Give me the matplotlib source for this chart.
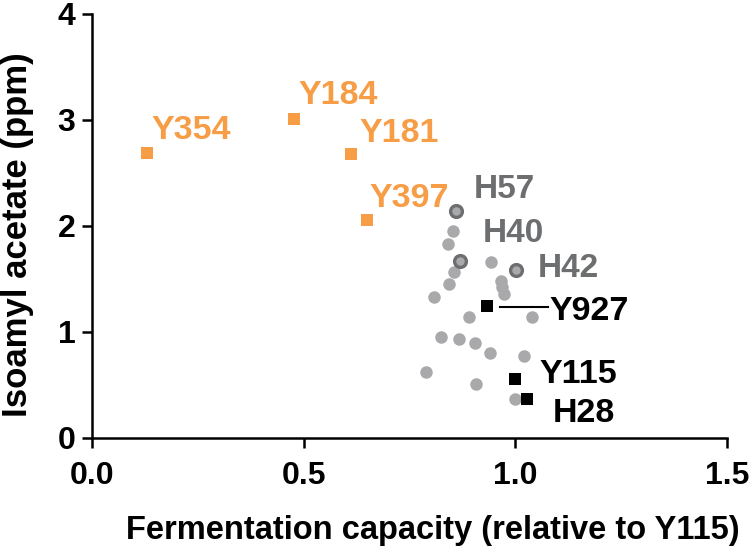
import matplotlib
matplotlib.use("Agg")
import matplotlib.pyplot as plt

plt.rcParams['font.family'] = ['Liberation Sans', 'DejaVu Sans']
plt.rcParams['font.weight'] = 'bold'

# orange squares (low fermentation, high isoamyl acetate)
orange_names = ['Y354', 'Y184', 'Y181', 'Y397']
orange_x = [0.131, 0.478, 0.611, 0.651]
orange_y = [2.69, 3.01, 2.68, 2.06]

# black squares (references)
black_names = ['Y927', 'Y115', 'H28']
black_x = [0.933, 1.000, 1.028]
black_y = [1.24, 0.55, 0.37]

# highlighted hybrids (ringed circles)
ring_names = ['H57', 'H40', 'H42']
ring_x = [0.859, 0.869, 1.003]
ring_y = [2.14, 1.67, 1.58]

# other hybrids
gray_x = [0.853, 0.841, 0.855, 0.844, 0.944, 0.967, 0.970, 0.973, 0.807,
          0.891, 1.039, 0.824, 0.867, 0.904, 0.940, 1.020, 0.789, 0.907, 0.999]
gray_y = [1.95, 1.83, 1.56, 1.45, 1.66, 1.48, 1.42, 1.36, 1.33,
          1.14, 1.14, 0.95, 0.93, 0.89, 0.80, 0.77, 0.62, 0.51, 0.37]

# label anchors (left edge, vertical centre)
orange_lab = [(0.141, 2.90), (0.489, 3.23), (0.633, 2.87), (0.656, 2.26)]
black_lab = [(1.081, 1.195), (1.058, 0.594), (1.088, 0.224)]
ring_lab = [(0.901, 2.34), (0.923, 1.93), (1.053, 1.60)]

orange = '#F69D46'
grey = '#A9A9AB'
dark_grey = '#6D6E70'

fig = plt.figure(figsize=(7.5, 5.49), dpi=100)
ax = fig.add_axes([0.1227, 0.2027, 0.8463, 0.7718])

ax.plot(gray_x, gray_y, 'o', color=grey, markersize=9, markeredgewidth=0,
        clip_on=False, zorder=2)
ax.plot(ring_x, ring_y, 'o', color=grey, markersize=8.5,
        markeredgecolor=dark_grey, markeredgewidth=2.4, clip_on=False, zorder=3)
ax.plot(orange_x, orange_y, 's', color=orange, markersize=9, markeredgewidth=0,
        clip_on=False, zorder=3)
ax.plot(black_x, black_y, 's', color='black', markersize=8.5, markeredgewidth=0,
        clip_on=False, zorder=4)

# leader line for Y927
ax.plot([0.963, 1.077], [1.235, 1.235], color='black', linewidth=1.5, zorder=4)

for name, (tx, ty) in zip(orange_names, orange_lab):
    ax.text(tx, ty, name, color=orange, fontsize=24.5, fontweight='bold',
            ha='left', va='center')
for name, (tx, ty) in zip(black_names, black_lab):
    ax.text(tx, ty, name, color='black', fontsize=24.5, fontweight='bold',
            ha='left', va='center')
for name, (tx, ty) in zip(ring_names, ring_lab):
    ax.text(tx, ty, name, color=dark_grey, fontsize=24, fontweight='bold',
            ha='left', va='center')

ax.set_xlim(0, 1.5)
ax.set_ylim(0, 4)
ax.set_xticks([0.0, 0.5, 1.0, 1.5])
ax.set_xticklabels(['0.0', '0.5', '1.0', '1.5'])
ax.set_yticks([0, 1, 2, 3, 4])

for side in ['top', 'right']:
    ax.spines[side].set_visible(False)
for side in ['left', 'bottom']:
    ax.spines[side].set_linewidth(1.8)

ax.tick_params(axis='both', direction='out', length=7, width=1.8,
               labelsize=23)
ax.tick_params(axis='x', pad=10)
ax.tick_params(axis='y', pad=5)
for lab in ax.get_xticklabels() + ax.get_yticklabels():
    lab.set_fontweight('bold')

ax.set_xlabel('Fermentation capacity (relative to Y115)', fontsize=23.5,
              fontweight='bold')
ax.set_ylabel('Isoamyl acetate (ppm)', fontsize=25, fontweight='bold')
ax.xaxis.set_label_coords(0.537, -0.183)
ax.yaxis.set_label_coords(-0.092, 0.479)

plt.savefig('out.png', dpi=100)
plt.close()
